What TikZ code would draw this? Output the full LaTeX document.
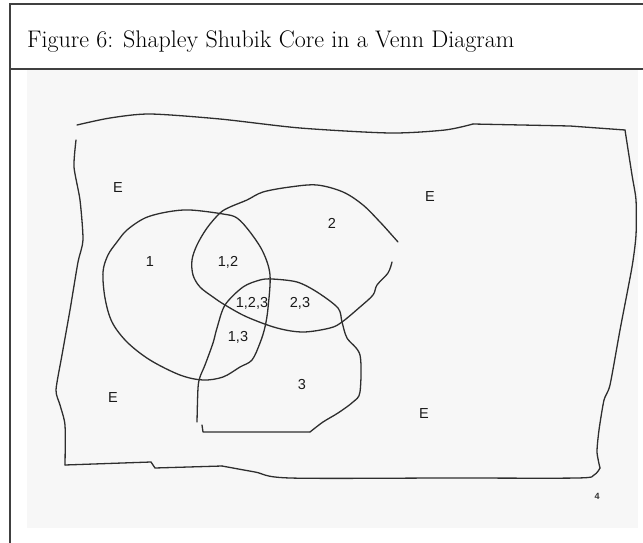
\documentclass[tikz,border=0pt]{standalone}
\usepackage{fontspec}
\newfontfamily\vennfont{Liberation Sans}
\begin{document}
\begin{tikzpicture}[x=1pt,y=-1pt,
  frame/.style={draw=black!75, line width=1.1pt},
  hand/.style={draw=black!82, line width=1.3pt, line join=round, line cap=round},
  lab/.style={font=\vennfont\fontsize{14.5}{16}\selectfont, text=black!90, inner sep=0pt}]
\useasboundingbox (0,0) rectangle (643,543);
% panel
\fill[black!3] (27,70) rectangle (638,528);
\draw[frame] (643,4) -- (10,4) -- (10,543);
\draw[frame] (10,69) -- (643,69);
\node[anchor=base west, inner sep=0pt] (title) at (27,48)
  {\fontsize{24}{28}\selectfont Figure 6: Shapley Shubik Core in a Venn Diagram};
% outer universe (hand drawn)
\draw[hand] plot[smooth, tension=0.45] coordinates {(77,125) (110,118) (150,114) (220,119) (300,128) (390,133) (445,130) (473,124)};
\draw[hand] (473,124) -- (570,126) -- (625,130);
\draw[hand] plot[smooth, tension=0.4] coordinates {(625,130) (632,175) (636,200) (636,235) (632,267) (620,330) (610,385) (604,400) (599,430) (597,452) (600,468)};
\draw[hand] plot[smooth, tension=0.5] coordinates {(600,468) (594,475) (577,478) (450,478) (290,478) (255,472) (222,466)};
\draw[hand] (222,466) -- (155,468) -- (151,462) -- (65,465);
\draw[hand] plot[smooth, tension=0.4] coordinates {(65,465) (65,425) (60,405) (56,390) (62,355) (70,310) (78,262) (83,240) (80,200) (74,167) (76,140)};
% circle 1
\draw[hand] plot[smooth cycle, tension=0.55] coordinates {(190,210) (223,214) (237,218) (250,232) (263,252) (270,275) (268,308) (265,327) (260,343) (252,360) (240,367) (223,377) (203,380) (180,375) (150,360) (127,342) (112,322) (105,298) (103,272) (108,255) (117,242) (127,230) (145,218) (167,212)};
% circle 2
\draw[hand] plot[smooth, tension=0.55] coordinates {(398,242) (390,233) (380,222) (363,205) (343,192) (317,185) (290,187) (263,192) (247,200) (230,207) (220,213) (207,228) (197,245) (192,260) (193,275) (200,287) (213,297) (225,305) (247,317) (277,328) (303,332) (330,328) (342,322) (360,307) (373,295) (377,285) (388,273) (392,262)};
% circle 3
\draw[hand] plot[smooth, tension=0.5] coordinates {(197,422) (198,388) (200,377) (205,365) (213,343) (217,328) (225,305) (243,287) (260,280) (272,279) (297,282) (317,292) (338,308) (342,322) (347,338) (360,355) (360,392) (353,402) (338,413) (323,422) (310,432)};
\draw[hand] (310,432) -- (203,432) -- (202,425);
% labels
\node[lab] (e1) at (118,188) {E};
\node[lab] (e2) at (430,197) {E};
\node[lab] (e3) at (113,398) {E};
\node[lab] (e4) at (424,414) {E};
\node[lab] (s1) at (150,262) {1};
\node[lab] (s12) at (228,262) {1,2};
\node[lab] (s2) at (332,223) {2};
\node[lab] (s123) at (252,303) {1,2,3};
\node[lab] (s23) at (300,303) {2,3};
\node[lab] (s13) at (238,337) {1,3};
\node[lab] (s3) at (302,385) {3};
\node[font=\vennfont\bfseries\fontsize{9}{10}\selectfont, text=black!80, inner sep=0pt] (pg) at (597,496) {4};
\end{tikzpicture}
\end{document}
